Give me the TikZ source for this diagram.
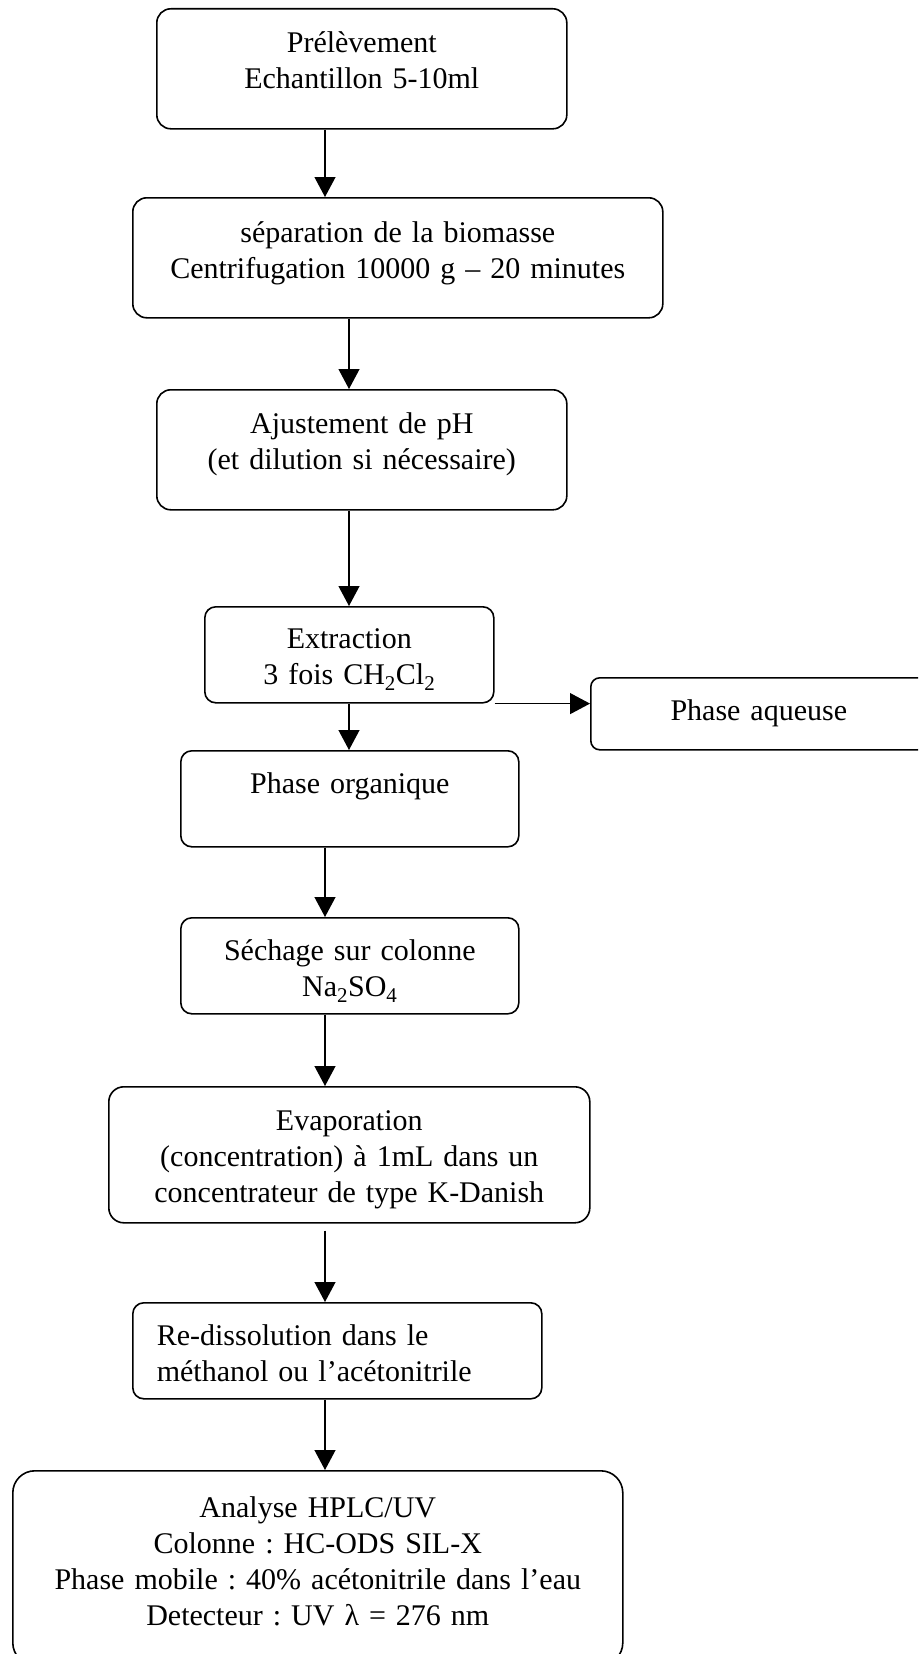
\documentclass[tikz,border=0pt]{standalone}
\usepackage{fontspec}
\setmainfont{Liberation Serif}
\usetikzlibrary{arrows.meta, positioning}
\tikzset{> = {Triangle[length = 20pt, width = 21pt]}}
\tikzset{
	etape/.style = {draw, line width = 1.6pt, rounded corners = 12pt, anchor = north west,
		inner xsep = 0pt, inner ysep = 0pt, align = center,
		font = \fontsize{30}{36}\selectfont\frenchspacing},
	fleche/.style = {->, line width = 1.2pt}
}

\begin{document}
\begin{tikzpicture}[x = 1pt, y = -1pt]
	\useasboundingbox (0, 0) rectangle (918, 1654);
	\clip (0, 0) rectangle (918, 1654);

	\node [etape, rounded corners = 14pt, text width = 410pt, text height = 44pt, text depth = 76pt] (prel) at (156, 8) {Prélèvement\\Echantillon 5-10ml};
	\node [etape, rounded corners = 14pt, text width = 530pt, text height = 45pt, text depth = 75pt] (sep) at (132, 197) {séparation de la biomasse\\Centrifugation 10000 g -- 20 minutes};
	\node [etape, rounded corners = 14pt, text width = 410pt, text height = 44pt, text depth = 76pt] (ajust) at (156, 389) {Ajustement de pH\\(et dilution si nécessaire)};
	\node [etape, rounded corners = 11pt, text width = 289pt, text height = 42pt, text depth = 54pt] (extr) at (204, 606) {Extraction\\3 fois CH\textsubscript{2}Cl\textsubscript{2}};
	\node [etape, rounded corners = 9pt, text width = 336pt, text height = 43pt, text depth = 29pt] (aqueuse) at (590, 677) {Phase aqueuse};
	\node [etape, rounded corners = 11pt, text width = 338pt, text height = 43pt, text depth = 53pt] (org) at (180, 750) {Phase organique};
	\node [etape, rounded corners = 11pt, text width = 338pt, text height = 43pt, text depth = 53pt] (sech) at (180, 917) {Séchage sur colonne\\Na\textsubscript{2}SO\textsubscript{4}};
	\node [etape, rounded corners = 15pt, text width = 481pt, text height = 44pt, text depth = 92pt] (evap) at (108, 1086) {Evaporation\\(concentration) à 1mL dans un\\concentrateur de type K-Danish};
	\node [etape, rounded corners = 11pt, inner xsep = 24pt, align = left, text width = 361pt, text height = 43pt, text depth = 53pt] (redis) at (132, 1302) {Re-dissolution dans le\\méthanol ou l'acétonitrile};
	\node [etape, rounded corners = 22pt, text width = 610pt, text height = 47pt, text depth = 147pt] (hplc) at (12, 1470) {Analyse HPLC/UV\\Colonne : HC-ODS SIL-X\\Phase mobile : 40\% acétonitrile dans l'eau\\Detecteur : UV λ = 276 nm};

	\coordinate (axeA) at (325, 0);
	\coordinate (axeB) at (349, 0);

	\draw [fleche] (prel.south -| axeA) -- (sep.north -| axeA);
	\draw [fleche] (sep.south -| axeB) -- (ajust.north -| axeB);
	\draw [fleche] (ajust.south -| axeB) -- (extr.north -| axeB);
	\draw [fleche] (extr.south east) -- (extr.south east -| aqueuse.west);
	\draw [fleche] (extr.south -| axeB) -- (org.north -| axeB);
	\draw [fleche] (org.south -| axeA) -- (sech.north -| axeA);
	\draw [fleche] (sech.south -| axeA) -- (evap.north -| axeA);
	\draw [fleche] ([yshift = -7pt]evap.south -| axeA) -- (redis.north -| axeA);
	\draw [fleche] (redis.south -| axeA) -- (hplc.north -| axeA);
\end{tikzpicture}
\end{document}
